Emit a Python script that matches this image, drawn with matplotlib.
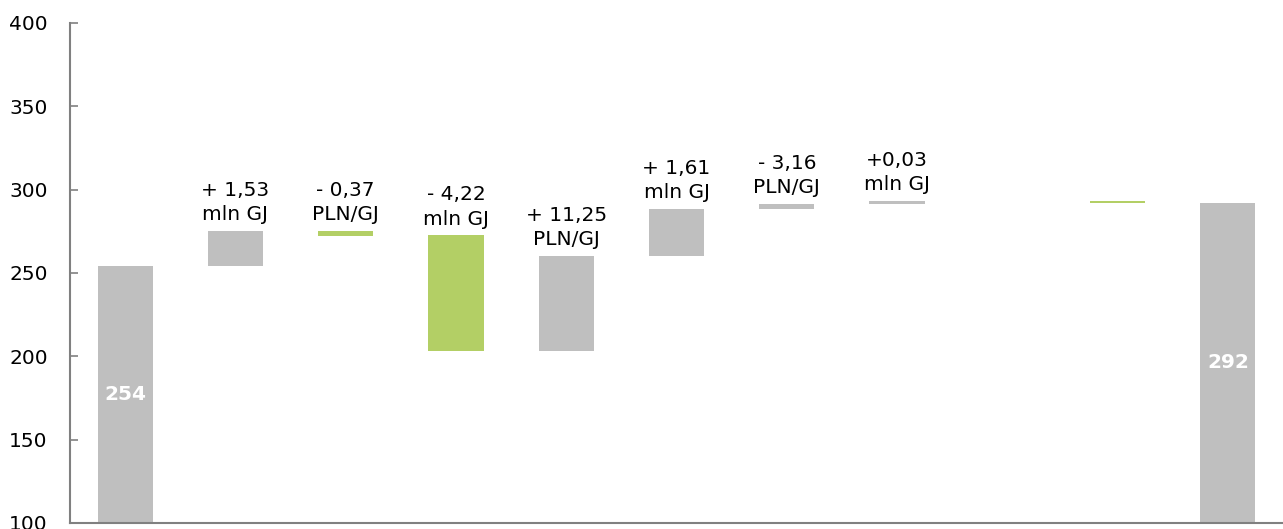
import numpy as np
import matplotlib
matplotlib.use("Agg")
import matplotlib.pyplot as plt

# waterfall data
start_value = 254
deltas = [21, -2.5, -69.5, 57, 28.5, 3, 1.5, 0, -1.0]
end_value = 292
labels = ["", "+ 1,53\nmln GJ", "- 0,37\nPLN/GJ", "- 4,22\nmln GJ", "+ 11,25\nPLN/GJ",
          "+ 1,61\nmln GJ", "- 3,16\nPLN/GJ", "+0,03\nmln GJ", "", "", ""]
kinds = ["total", "gray", "green", "green", "gray", "gray", "gray", "gray", "none", "green", "total"]

GRAY = "#bfbfbf"
GREEN = "#b3cf65"
AXIS = "#808080"

# build bottoms / tops
bottoms = [100]
tops = [start_value]
level = start_value
for d in deltas:
    new = level + d
    bottoms.append(min(level, new))
    tops.append(max(level, new))
    level = new
bottoms.append(100)
tops.append(end_value)

x = np.arange(len(tops))
fig = plt.figure(figsize=(12.83, 5.29), dpi=100)
ax = fig.add_axes([70 / 1283, 1 - 523 / 529, 1 - 70 / 1283, 500 / 529])

for i, (b, t, k) in enumerate(zip(bottoms, tops, kinds)):
    if k == "none":
        continue
    col = GREEN if k == "green" else GRAY
    h = max(t - b, 0.6)
    ax.bar(x[i], h, bottom=b, width=0.5, color=col, linewidth=0)
    if labels[i]:
        ax.annotate(labels[i], (x[i], b + h), xytext=(0, 5), textcoords="offset points",
                    ha="center", va="bottom", fontsize=14.5, linespacing=1.35)

# totals inside
ax.text(x[0], (100 + start_value) / 2, str(start_value), color="white", fontsize=14.5,
        fontweight="bold", ha="center", va="center")
ax.text(x[-1], (100 + end_value) / 2, str(end_value), color="white", fontsize=14.5,
        fontweight="bold", ha="center", va="center")

ax.set_xlim(-0.5, len(tops) - 0.5)
ax.set_ylim(100, 400)
ax.set_yticks(np.arange(100, 401, 50))
ax.set_xticks([])
for s in ["top", "right"]:
    ax.spines[s].set_visible(False)
for s in ["left", "bottom"]:
    ax.spines[s].set_color(AXIS)
    ax.spines[s].set_linewidth(1.5)
ax.tick_params(axis="y", direction="in", length=6, width=1.2, color=AXIS,
               labelsize=14.5, pad=16)

fig.savefig("out.png", dpi=100)
